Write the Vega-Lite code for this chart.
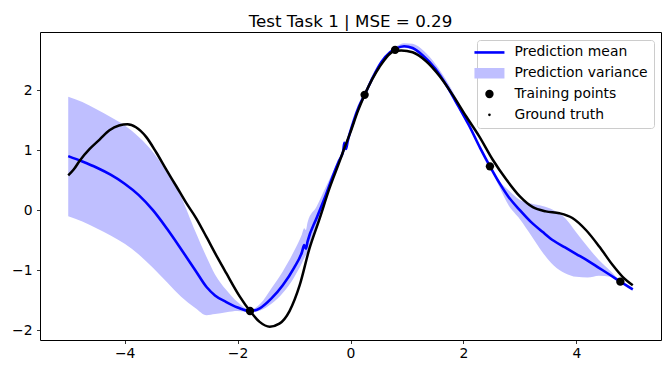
{
  "$schema": "https://vega.github.io/schema/vega-lite/v6.json",
  "autosize": "none",
  "width": 621,
  "height": 308,
  "padding": {"left": 40, "top": 32, "right": 9, "bottom": 34},
  "background": "white",
  "title": {"text": "Test Task 1 | MSE = 0.29", "font": "DejaVu Sans", "fontSize": 16.7, "fontWeight": "normal", "color": "black", "anchor": "middle", "frame": "group", "offset": 8, "baseline": "alphabetic", "dy": 20},
  "datasets": {
    "pred": [
      {"x": -5.0, "mean": 0.90, "lo": -0.10, "hi": 1.89},
      {"x": -4.75, "mean": 0.81, "lo": -0.19, "hi": 1.80},
      {"x": -4.5, "mean": 0.71, "lo": -0.30, "hi": 1.68},
      {"x": -4.25, "mean": 0.59, "lo": -0.42, "hi": 1.55},
      {"x": -4.0, "mean": 0.44, "lo": -0.56, "hi": 1.41},
      {"x": -3.75, "mean": 0.25, "lo": -0.74, "hi": 1.22},
      {"x": -3.5, "mean": 0.00, "lo": -0.96, "hi": 0.97},
      {"x": -3.25, "mean": -0.31, "lo": -1.20, "hi": 0.63},
      {"x": -3.0, "mean": -0.65, "lo": -1.44, "hi": 0.22},
      {"x": -2.75, "mean": -1.00, "lo": -1.63, "hi": -0.35},
      {"x": -2.55, "mean": -1.28, "lo": -1.75, "hi": -0.78},
      {"x": -2.4, "mean": -1.42, "lo": -1.73, "hi": -1.07},
      {"x": -2.2, "mean": -1.53, "lo": -1.70, "hi": -1.33},
      {"x": -2.0, "mean": -1.62, "lo": -1.68, "hi": -1.53},
      {"x": -1.78, "mean": -1.68, "lo": -1.70, "hi": -1.66},
      {"x": -1.6, "mean": -1.63, "lo": -1.67, "hi": -1.56},
      {"x": -1.4, "mean": -1.47, "lo": -1.56, "hi": -1.30},
      {"x": -1.2, "mean": -1.25, "lo": -1.38, "hi": -1.02},
      {"x": -1.0, "mean": -0.96, "lo": -1.12, "hi": -0.68},
      {"x": -0.86, "mean": -0.70, "lo": -0.88, "hi": -0.40},
      {"x": -0.82, "mean": -0.58, "lo": -0.80, "hi": -0.30},
      {"x": -0.79, "mean": -0.64, "lo": -0.75, "hi": -0.33},
      {"x": -0.76, "mean": -0.52, "lo": -0.70, "hi": -0.20},
      {"x": -0.6, "mean": -0.13, "lo": -0.33, "hi": 0.06},
      {"x": -0.45, "mean": 0.22, "lo": 0.10, "hi": 0.36},
      {"x": -0.3, "mean": 0.60, "lo": 0.56, "hi": 0.66},
      {"x": -0.2, "mean": 0.83, "lo": 0.81, "hi": 0.86},
      {"x": -0.13, "mean": 0.98, "lo": 0.96, "hi": 1.00},
      {"x": -0.11, "mean": 1.12, "lo": 1.10, "hi": 1.14},
      {"x": -0.08, "mean": 1.02, "lo": 1.00, "hi": 1.04},
      {"x": -0.05, "mean": 1.15, "lo": 1.13, "hi": 1.17},
      {"x": 0.05, "mean": 1.47, "lo": 1.45, "hi": 1.49},
      {"x": 0.15, "mean": 1.73, "lo": 1.71, "hi": 1.75},
      {"x": 0.25, "mean": 1.92, "lo": 1.91, "hi": 1.93},
      {"x": 0.4, "mean": 2.22, "lo": 2.20, "hi": 2.24},
      {"x": 0.55, "mean": 2.47, "lo": 2.45, "hi": 2.49},
      {"x": 0.7, "mean": 2.63, "lo": 2.61, "hi": 2.65},
      {"x": 0.8, "mean": 2.69, "lo": 2.67, "hi": 2.72},
      {"x": 0.95, "mean": 2.73, "lo": 2.70, "hi": 2.78},
      {"x": 1.1, "mean": 2.70, "lo": 2.67, "hi": 2.77},
      {"x": 1.3, "mean": 2.56, "lo": 2.52, "hi": 2.65},
      {"x": 1.5, "mean": 2.36, "lo": 2.32, "hi": 2.44},
      {"x": 1.7, "mean": 2.08, "lo": 2.04, "hi": 2.16},
      {"x": 1.9, "mean": 1.75, "lo": 1.71, "hi": 1.82},
      {"x": 2.1, "mean": 1.41, "lo": 1.38, "hi": 1.45},
      {"x": 2.3, "mean": 1.03, "lo": 1.01, "hi": 1.05},
      {"x": 2.47, "mean": 0.73, "lo": 0.72, "hi": 0.74},
      {"x": 2.64, "mean": 0.45, "lo": 0.38, "hi": 0.48},
      {"x": 2.8, "mean": 0.22, "lo": 0.08, "hi": 0.33},
      {"x": 3.0, "mean": 0.00, "lo": -0.15, "hi": 0.17},
      {"x": 3.2, "mean": -0.20, "lo": -0.42, "hi": 0.11},
      {"x": 3.4, "mean": -0.36, "lo": -0.70, "hi": 0.07},
      {"x": 3.6, "mean": -0.51, "lo": -0.92, "hi": 0.00},
      {"x": 3.8, "mean": -0.62, "lo": -1.05, "hi": -0.13},
      {"x": 4.0, "mean": -0.73, "lo": -1.11, "hi": -0.37},
      {"x": 4.2, "mean": -0.84, "lo": -1.12, "hi": -0.61},
      {"x": 4.4, "mean": -0.96, "lo": -1.09, "hi": -0.83},
      {"x": 4.6, "mean": -1.08, "lo": -1.11, "hi": -1.01},
      {"x": 4.78, "mean": -1.19, "lo": -1.20, "hi": -1.18},
      {"x": 5.0, "mean": -1.32, "lo": -1.34, "hi": -1.31}
    ],
    "truth": [
      {"x": -5.0, "y": 0.58},
      {"x": -4.9, "y": 0.68},
      {"x": -4.8, "y": 0.82},
      {"x": -4.62, "y": 1.02},
      {"x": -4.44, "y": 1.18},
      {"x": -4.27, "y": 1.33},
      {"x": -4.1, "y": 1.41},
      {"x": -3.95, "y": 1.43},
      {"x": -3.8, "y": 1.38},
      {"x": -3.62, "y": 1.22},
      {"x": -3.44, "y": 0.96},
      {"x": -3.26, "y": 0.67},
      {"x": -3.08, "y": 0.39},
      {"x": -2.91, "y": 0.12},
      {"x": -2.73, "y": -0.14},
      {"x": -2.55, "y": -0.45},
      {"x": -2.35, "y": -0.80},
      {"x": -2.2, "y": -1.05},
      {"x": -1.96, "y": -1.44},
      {"x": -1.78, "y": -1.68},
      {"x": -1.61, "y": -1.86},
      {"x": -1.43, "y": -1.94},
      {"x": -1.26, "y": -1.89},
      {"x": -1.08, "y": -1.68},
      {"x": -0.9, "y": -1.25},
      {"x": -0.73, "y": -0.65},
      {"x": -0.55, "y": -0.15},
      {"x": -0.37, "y": 0.37},
      {"x": -0.19, "y": 0.82},
      {"x": -0.11, "y": 1.03},
      {"x": 0.0, "y": 1.30},
      {"x": 0.13, "y": 1.65},
      {"x": 0.25, "y": 1.92},
      {"x": 0.51, "y": 2.38},
      {"x": 0.78, "y": 2.65},
      {"x": 0.9, "y": 2.66},
      {"x": 1.1, "y": 2.63},
      {"x": 1.34, "y": 2.48},
      {"x": 1.58, "y": 2.23},
      {"x": 1.81, "y": 1.92},
      {"x": 2.05, "y": 1.56},
      {"x": 2.28, "y": 1.23},
      {"x": 2.52, "y": 0.84},
      {"x": 2.76, "y": 0.51},
      {"x": 3.0, "y": 0.23},
      {"x": 3.23, "y": 0.05},
      {"x": 3.46, "y": -0.02},
      {"x": 3.7, "y": -0.05},
      {"x": 3.93, "y": -0.13},
      {"x": 4.17, "y": -0.33},
      {"x": 4.41, "y": -0.61},
      {"x": 4.64, "y": -0.91},
      {"x": 4.82, "y": -1.11},
      {"x": 5.0, "y": -1.25}
    ],
    "train": [
      {"x": -1.78, "y": -1.68},
      {"x": 0.25, "y": 1.92},
      {"x": 0.79, "y": 2.67},
      {"x": 2.47, "y": 0.73},
      {"x": 4.78, "y": -1.19}
    ]
  },
  "layer": [
    {
      "data": {"name": "pred"},
      "mark": {"type": "area", "interpolate": "monotone"},
      "encoding": {
        "x": {"field": "x", "type": "quantitative", "title": null, "scale": {"domain": [-5.5, 5.5], "nice": false, "zero": false}, "axis": {"values": [-4, -2, 0, 2, 4], "format": "d"}},
        "y": {"field": "lo", "type": "quantitative", "title": null, "scale": {"domain": [-2.162, 2.967], "nice": false, "zero": false}, "axis": {"values": [-2, -1, 0, 1, 2], "format": "d"}},
        "y2": {"field": "hi"},
        "color": {"datum": "Prediction variance", "type": "nominal",
          "scale": {"domain": ["Prediction mean", "Prediction variance", "Training points", "Ground truth"], "range": ["#0000ff", "#bfbfff", "#000000", "#000000"]},
          "legend": {
            "title": null, "orient": "top-right", "offset": 7.5, "zindex": 1,
            "symbolSize": 900, "labelFont": "DejaVu Sans", "labelFontSize": 13.9, "labelColor": "black", "labelOffset": 10,
            "rowPadding": 5.8, "padding": 5.5, "strokeColor": "#cccccc", "fillColor": "rgba(255,255,255,0.8)", "cornerRadius": 3,
            "encode": {"symbols": {"update": {
              "shape": {"signal": "datum.value === 'Prediction mean' ? 'stroke' : datum.value === 'Prediction variance' ? 'M-1,-0.35H1V0.35H-1Z' : 'circle'"},
              "size": {"signal": "datum.value === 'Training points' ? 70 : datum.value === 'Ground truth' ? 7 : 900"},
              "fill": {"signal": "datum.value === 'Prediction mean' ? 'transparent' : datum.value === 'Prediction variance' ? '#bfbfff' : 'black'"},
              "stroke": {"signal": "datum.value === 'Prediction mean' ? '#0000ff' : 'transparent'"},
              "strokeWidth": {"signal": "datum.value === 'Prediction mean' ? 2.6 : 0"},
              "opacity": {"value": 1},
              "fillOpacity": {"value": 1},
              "strokeOpacity": {"value": 1}
            }},
            "labels": {"update": {"dx": {"value": 8}}}}
          }
        }
      }
    },
    {
      "data": {"name": "pred"},
      "mark": {"type": "line", "interpolate": "monotone", "strokeWidth": 2.6},
      "encoding": {
        "x": {"field": "x", "type": "quantitative", "title": null},
        "y": {"field": "mean", "type": "quantitative", "title": null},
        "color": {"datum": "Prediction mean", "type": "nominal"}
      }
    },
    {
      "data": {"name": "truth"},
      "mark": {"type": "line", "interpolate": "monotone", "strokeWidth": 2.5},
      "encoding": {
        "x": {"field": "x", "type": "quantitative", "title": null},
        "y": {"field": "y", "type": "quantitative", "title": null},
        "color": {"datum": "Ground truth", "type": "nominal"}
      }
    },
    {
      "data": {"name": "train"},
      "mark": {"type": "point", "filled": true, "shape": "circle", "size": 70, "opacity": 1},
      "encoding": {
        "x": {"field": "x", "type": "quantitative", "title": null},
        "y": {"field": "y", "type": "quantitative", "title": null},
        "color": {"datum": "Training points", "type": "nominal"}
      }
    }
  ],
  "config": {
    "view": {"stroke": "black", "strokeWidth": 1},
    "axis": {"domain": false, "grid": false, "ticks": true, "tickColor": "black", "tickSize": 3.5, "tickWidth": 0.8, "labelFont": "DejaVu Sans", "labelFontSize": 13.9, "labelColor": "black"},
    "axisX": {"labelPadding": 3},
    "axisY": {"labelPadding": 4.5}
  }
}
